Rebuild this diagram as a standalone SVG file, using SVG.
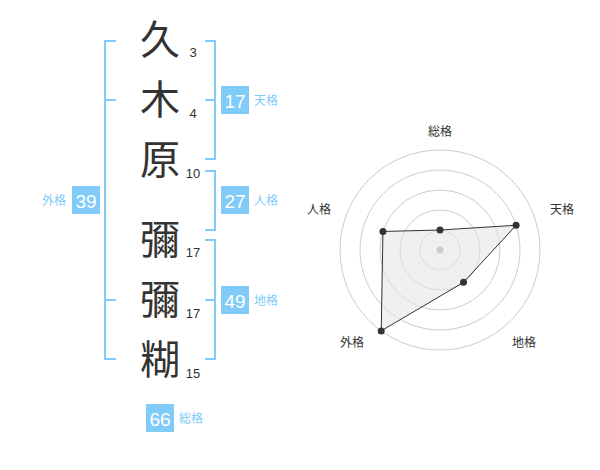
<svg xmlns="http://www.w3.org/2000/svg" width="600" height="470" viewBox="0 0 600 470">
<style>
.br{fill:none;stroke:#80cbf8;stroke-width:2}
.box{fill:#80cbf8}
.bn{font-family:"Liberation Sans",Arial,sans-serif;font-size:19px;fill:#ffffff;text-anchor:middle}
.bl{font-family:"Noto Sans CJK JP","Noto Sans CJK SC",sans-serif;font-size:12px;fill:#80cbf8}
.ch{font-family:"Noto Sans CJK JP","Noto Sans CJK SC",sans-serif;font-size:40px;fill:#333333;text-anchor:middle}
.st{font-family:"Liberation Sans",Arial,sans-serif;font-size:13px;fill:#333333;text-anchor:middle}
.rl{font-family:"Noto Sans CJK JP","Noto Sans CJK SC",sans-serif;font-size:12px;fill:#333333;text-anchor:middle}
.ring{fill:none;stroke:#cccccc;stroke-width:1}
.dot{fill:#333333}
</style>
<rect width="600" height="470" fill="#ffffff"/>
<g id="chars">
<g id="c1"><text class="ch" x="160" y="54">久</text><text class="st" x="193" y="57">3</text></g>
<g id="c2"><text class="ch" x="160" y="114">木</text><text class="st" x="193" y="118">4</text></g>
<g id="c3"><text class="ch" x="160" y="174">原</text><text class="st" x="193" y="178">10</text></g>
<g id="c4"><text class="ch" x="160" y="254">彌</text><text class="st" x="193" y="257">17</text></g>
<g id="c5"><text class="ch" x="160" y="314">彌</text><text class="st" x="193" y="318">17</text></g>
<g id="c6"><text class="ch" x="160" y="374">糊</text><text class="st" x="193" y="378">15</text></g>
</g>
<g id="connectors">
<path class="br" d="M116,41 H105 V359 H116 M105,100 H116 M105,300 H116"/>
<path class="br" d="M205,41 H215 V159 H205 M205,100 H215"/>
<path class="br" d="M205,171 H215 V230 H205"/>
<path class="br" d="M205,240 H215 V359 H205 M205,300 H215"/>
</g>
<g id="tenkaku"><rect class="box" x="221" y="86" width="28" height="28"/><text class="bn" x="235" y="108">17</text><text class="bl" x="254" y="105">天格</text></g>
<g id="jinkaku"><rect class="box" x="221" y="186" width="28" height="28"/><text class="bn" x="235" y="208">27</text><text class="bl" x="254" y="205">人格</text></g>
<g id="chikaku"><rect class="box" x="221" y="286" width="28" height="28"/><text class="bn" x="235" y="308">49</text><text class="bl" x="254" y="305">地格</text></g>
<g id="gaikaku"><rect class="box" x="72" y="186" width="28" height="28"/><text class="bn" x="86" y="208">39</text><text class="bl" x="66" y="205" text-anchor="end">外格</text></g>
<g id="soukaku"><rect class="box" x="146" y="404" width="28" height="28"/><text class="bn" x="160" y="426">66</text><text class="bl" x="179" y="423">総格</text></g>
<g id="radar">
<circle class="ring" cx="440" cy="250" r="20"/>
<circle class="ring" cx="440" cy="250" r="40"/>
<circle class="ring" cx="440" cy="250" r="60"/>
<circle class="ring" cx="440" cy="250" r="80"/>
<circle class="ring" cx="440" cy="250" r="100"/>
<polygon points="440,230 516.08,225.28 463.51,282.36 381.22,330.9 382.94,231.46" fill="#e6e6e6" fill-opacity="0.6" stroke="#333333" stroke-width="1"/>
<circle cx="440" cy="250" r="3.5" fill="#cccccc"/>
<circle class="dot" cx="440" cy="230" r="3.5"/>
<circle class="dot" cx="516.08" cy="225.28" r="3.5"/>
<circle class="dot" cx="463.51" cy="282.36" r="3.5"/>
<circle class="dot" cx="381.22" cy="330.9" r="3.5"/>
<circle class="dot" cx="382.94" cy="231.46" r="3.5"/>
<text class="rl" x="440" y="136">総格</text>
<text class="rl" x="562" y="214">天格</text>
<text class="rl" x="524" y="347">地格</text>
<text class="rl" x="352" y="347">外格</text>
<text class="rl" x="319" y="214">人格</text>
</g>
</svg>
